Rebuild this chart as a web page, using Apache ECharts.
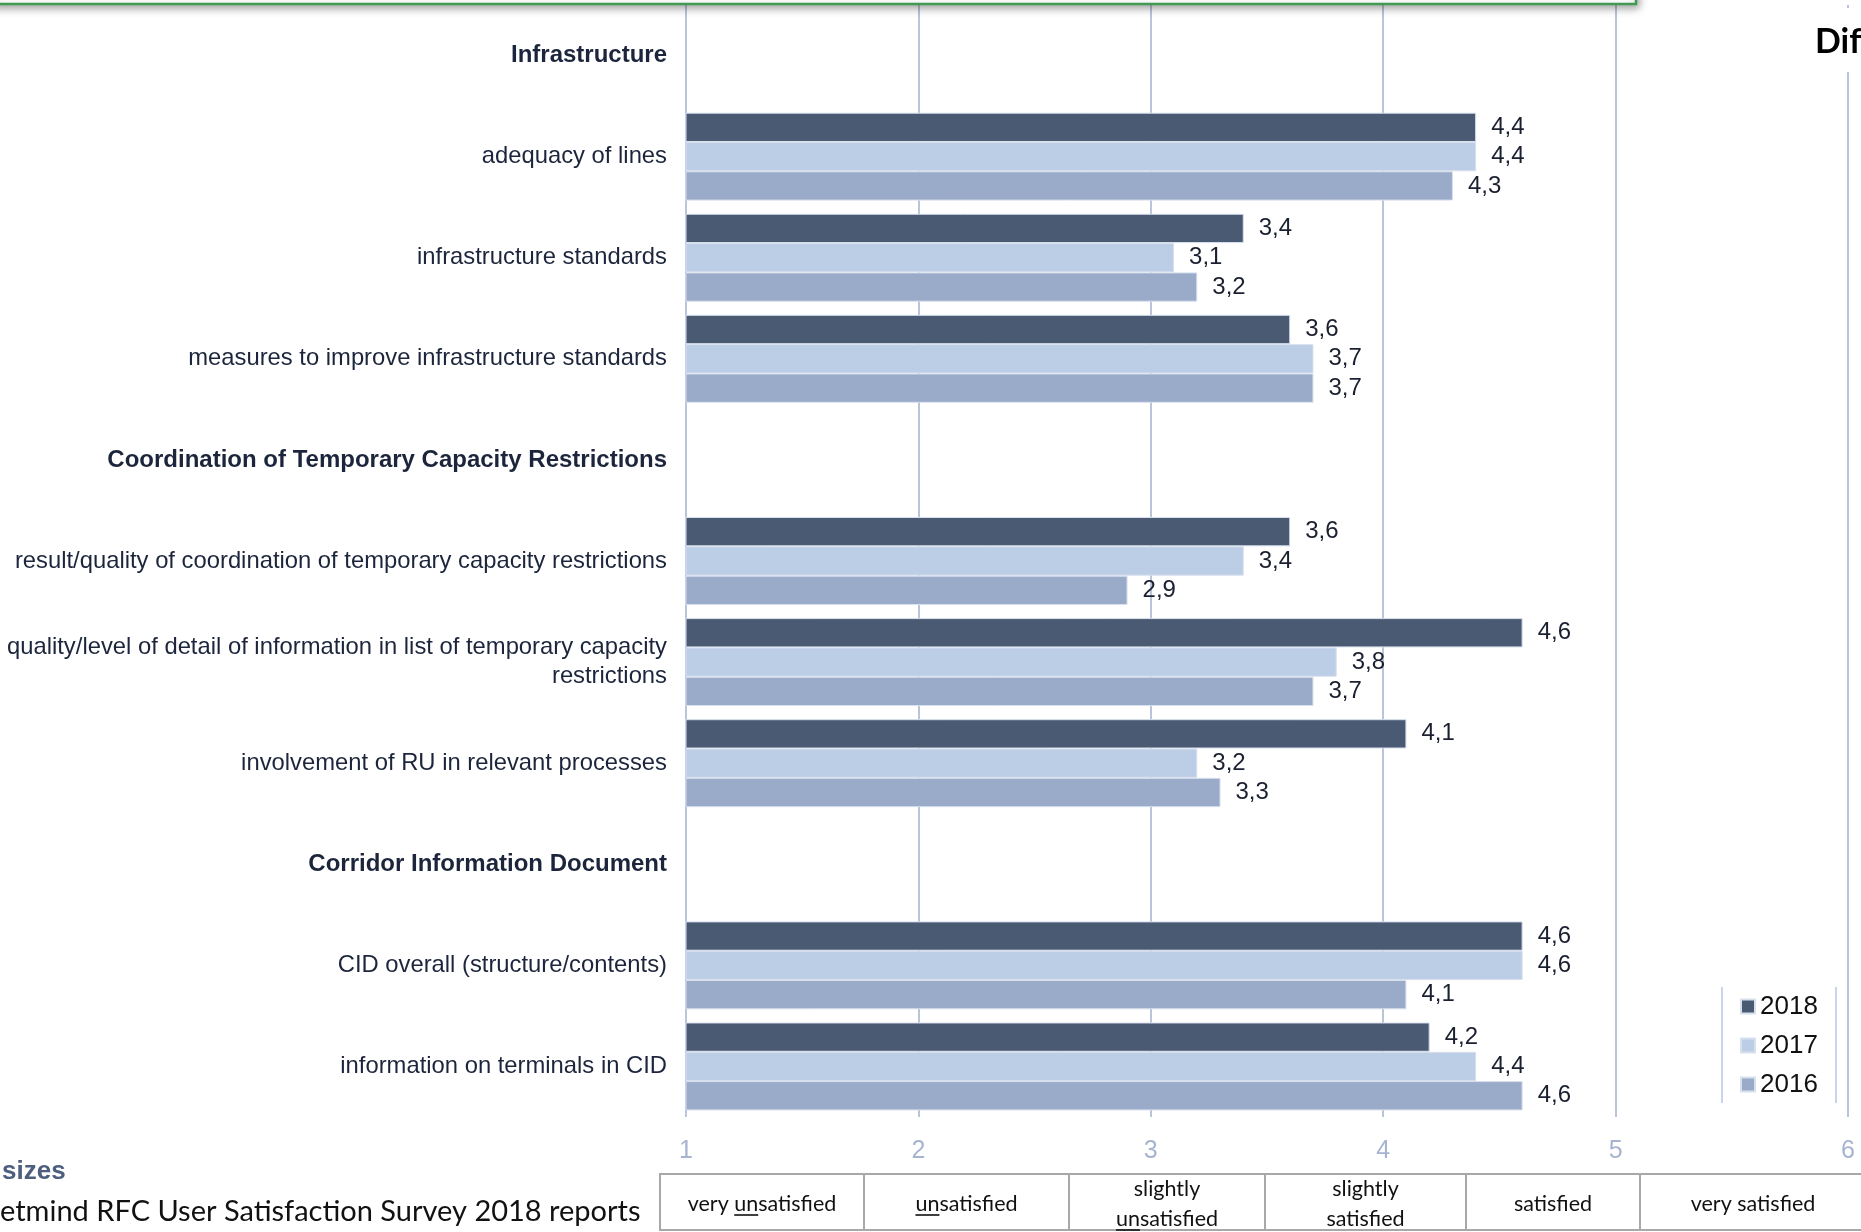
<!DOCTYPE html>
<html>
<head>
<meta charset="utf-8">
<script src="https://cdn.jsdelivr.net/npm/echarts@6/dist/echarts.min.js"></script>
<style>
  html, body { margin: 0; padding: 0; background: #ffffff; }
  #chart { width: 1861px; height: 1232px; }
</style>
</head>
<body>
<div id="chart"></div>
<script>
// Survey items, top to bottom; section headings carry no bars
const categories = [
  'Infrastructure',
  'adequacy of lines',
  'infrastructure standards',
  'measures to improve infrastructure standards',
  'Coordination of Temporary Capacity Restrictions',
  'result/quality of coordination of temporary capacity restrictions',
  'quality/level of detail of information in list of temporary capacity\nrestrictions',
  'involvement of RU in relevant processes',
  'Corridor Information Document',
  'CID overall (structure/contents)',
  'information on terminals in CID'
];
const sectionHeadings = [
  'Infrastructure',
  'Coordination of Temporary Capacity Restrictions',
  'Corridor Information Document'
];
const years = ['2018', '2017', '2016'];
const values2018 = [null, 4.4, 3.4, 3.6, null, 3.6, 4.6, 4.1, null, 4.6, 4.2];
const values2017 = [null, 4.4, 3.1, 3.7, null, 3.4, 3.8, 3.2, null, 4.6, 4.4];
const values2016 = [null, 4.3, 3.2, 3.7, null, 2.9, 3.7, 3.3, null, 4.1, 4.6];
const scaleTicks = [1, 2, 3, 4, 5, 6];
// Verbal meaning of the satisfaction scale, shown in the strip below the axis
const scaleLabels = ['very unsatisfied', 'unsatisfied', 'slightly\nunsatisfied', 'slightly\nsatisfied', 'satisfied', 'very satisfied'];

const yearColors = ['#4a5a73', '#bccde6', '#9aabc9'];
const seriesValues = [values2018, values2017, values2016];

const CHART_FONT = '"Liberation Sans", Arial, sans-serif';
const SLIDE_FONT = 'Lato, "Open Sans", sans-serif';
const INK = '#1c253b';

const el = document.getElementById('chart');
const chart = echarts.init(el, null, { renderer: 'canvas' });

const fmtValue = v => v.toFixed(1).replace('.', ',');

const series = years.map((y, i) => ({
  name: y,
  type: 'bar',
  data: seriesValues[i],
  barGap: '0%',
  barCategoryGap: '13%',
  itemStyle: { color: yearColors[i], borderColor: '#d8e0ee', borderWidth: 1 },
  label: {
    show: true,
    position: 'right',
    distance: 15,
    fontFamily: CHART_FONT,
    fontSize: 24,
    color: '#1b2030',
    formatter: p => (p.value == null ? '' : fmtValue(p.value))
  }
}));

// --- slide furniture around the chart ---
const graphics = [];

// bottom edge of the framed box sitting above the chart
graphics.push({
  type: 'rect', z: 100,
  shape: { x: -10, y: -80, width: 1646, height: 84 },
  style: {
    fill: '#ffffff', stroke: '#3f9b50', lineWidth: 2.5,
    shadowBlur: 8, shadowOffsetX: 2, shadowOffsetY: 3, shadowColor: 'rgba(0,0,0,0.35)'
  }
});

// truncated heading at the right edge
graphics.push({
  type: 'rect', z: 90,
  shape: { x: 1805, y: 8, width: 60, height: 64 },
  style: { fill: '#ffffff' }
});
graphics.push({
  type: 'text', z: 91,
  style: { text: 'Dif', x: 1815, y: 42, font: 'bold 34px ' + SLIDE_FONT, fill: '#000000', verticalAlign: 'middle' }
});

// legend frame
[1722, 1836].forEach(x => graphics.push({
  type: 'line', z: 5,
  shape: { x1: x, y1: 987, x2: x, y2: 1103 },
  style: { stroke: '#c8d5ea', lineWidth: 2 }
}));

// bottom-left captions
graphics.push({
  type: 'text', z: 10,
  style: { text: 'sizes', x: 2, y: 1172, font: 'bold 26px ' + CHART_FONT, fill: '#4d5e7e', verticalAlign: 'middle' }
});
graphics.push({
  type: 'text', z: 10,
  style: { text: 'etmind RFC User Satisfaction Survey 2018 reports', x: 0, y: 1212, font: '29px ' + SLIDE_FONT, fill: '#111111', verticalAlign: 'middle' }
});

// scale meaning strip
const cellEdges = [660, 864, 1069, 1265, 1466, 1640, 1866];
const stripTop = 1174, stripBottom = 1230;
const cellFont = '21.5px ' + SLIDE_FONT;
const measureCtx = document.createElement('canvas').getContext('2d');
measureCtx.font = cellFont;

for (let i = 0; i < scaleLabels.length; i++) {
  const l = cellEdges[i], r = cellEdges[i + 1];
  graphics.push({
    type: 'rect', z: 10,
    shape: { x: l, y: stripTop, width: r - l, height: stripBottom - stripTop },
    style: { fill: 'none', stroke: '#a8a8a8', lineWidth: 2 }
  });
  const lines = scaleLabels[i].split('\n');
  const cx = (l + r) / 2;
  const cy = (stripTop + stripBottom) / 2 + 2;
  const lh = 30;
  lines.forEach((line, k) => {
    const y = cy + (k - (lines.length - 1) / 2) * lh;
    graphics.push({
      type: 'text', z: 11,
      style: { text: line, x: cx, y: y, font: cellFont, fill: '#111111', align: 'center', verticalAlign: 'middle' }
    });
    // the negating prefix "un" is underlined
    const idx = line.indexOf('unsatisfied');
    if (idx >= 0) {
      const full = measureCtx.measureText(line).width;
      const pre = measureCtx.measureText(line.slice(0, idx)).width;
      const un = measureCtx.measureText('un').width;
      const x0 = cx - full / 2 + pre;
      graphics.push({
        type: 'line', z: 11,
        shape: { x1: x0, y1: y + 11, x2: x0 + un, y2: y + 11 },
        style: { stroke: '#111111', lineWidth: 1.6 }
      });
    }
  });
}

const option = {
  backgroundColor: '#ffffff',
  animation: false,
  grid: { left: 686, right: 13, top: 5, bottom: 115, containLabel: false },
  legend: {
    orient: 'vertical',
    left: 1740,
    top: 993,
    padding: 0,
    icon: 'rect',
    itemWidth: 14,
    itemHeight: 14,
    itemGap: 12,
    data: years,
    textStyle: { fontFamily: CHART_FONT, fontSize: 26, lineHeight: 27, color: '#111111' }
  },
  xAxis: {
    type: 'value',
    min: scaleTicks[0],
    max: scaleTicks[scaleTicks.length - 1],
    interval: 1,
    axisLine: { show: false },
    axisTick: { show: false },
    splitLine: { show: true, lineStyle: { color: '#a3b2cf', width: 1.5 } },
    axisLabel: { color: '#a6b4d2', fontFamily: CHART_FONT, fontSize: 25, margin: 22 }
  },
  yAxis: {
    type: 'category',
    inverse: true,
    data: categories,
    axisLine: { show: false },
    axisTick: { show: false },
    axisLabel: {
      margin: 19,
      fontFamily: CHART_FONT,
      fontSize: 23.8,
      lineHeight: 29,
      color: INK,
      align: 'right',
      formatter: v => (sectionHeadings.includes(v) ? '{h|' + v + '}' : v),
      rich: { h: { fontFamily: CHART_FONT, fontSize: 24, fontWeight: 'bold', color: INK } }
    }
  },
  series: series,
  graphic: graphics
};

chart.setOption(option);
</script>
</body>
</html>
